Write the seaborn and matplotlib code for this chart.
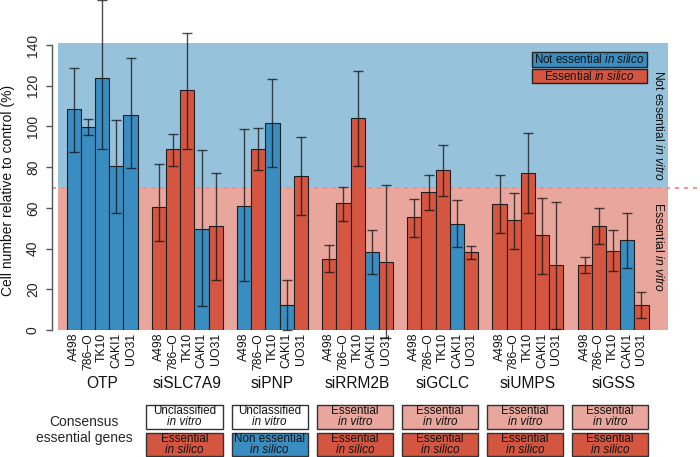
import numpy as np
import pandas as pd
import matplotlib
matplotlib.use("Agg")
import matplotlib.pyplot as plt
import matplotlib.transforms as mtrans
from matplotlib.patches import Rectangle
import seaborn as sns

# ---------------- data ----------------
groups = ["OTP", "siSLC7A9", "siPNP", "siRRM2B", "siGCLC", "siUMPS", "siGSS"]
cell_lines = ["A498", "786\u2013O", "TK10", "CAKI1", "UO31"]

otp_vals = [108.4, 99.7, 123.8, 80.4, 105.6]
slc7a9_vals = [60.3, 88.7, 118.1, 49.5, 51.1]
pnp_vals = [61.1, 89.1, 101.9, 12.1, 75.5]
rrm2b_vals = [34.9, 62.2, 104.1, 38.2, 33.2]
gclc_vals = [55.3, 67.6, 78.4, 52.1, 38.2]
umps_vals = [61.7, 53.9, 77.1, 46.5, 31.8]
gss_vals = [31.8, 50.9, 38.6, 44.0, 12.4]

otp_lo = [87.3, 95.9, 88.9, 57.3, 79.4]
otp_hi = [128.8, 103.6, 162.0, 103.0, 133.4]
slc7a9_lo = [43.9, 80.6, 88.7, 11.8, 24.4]
slc7a9_hi = [81.5, 96.4, 146.1, 88.3, 77.1]
pnp_lo = [23.9, 78.8, 79.9, 0.0, 56.5]
pnp_hi = [98.9, 99.4, 123.1, 24.4, 94.6]
rrm2b_lo = [28.3, 53.5, 80.7, 27.3, -4.0]
rrm2b_hi = [41.8, 70.4, 127.2, 49.3, 71.2]
gclc_lo = [45.8, 59.1, 66.0, 40.6, 34.7]
gclc_hi = [64.5, 76.0, 91.0, 63.7, 41.4]
umps_lo = [47.5, 39.6, 57.6, 27.3, 0.7]
umps_hi = [76.0, 67.5, 96.6, 64.7, 62.9]
gss_lo = [27.8, 42.2, 28.8, 30.6, 5.7]
gss_hi = [35.7, 59.8, 49.1, 57.5, 18.8]

# in silico status per bar (N = not essential, E = essential)
otp_status = ["N", "N", "N", "N", "N"]
slc7a9_status = ["E", "E", "E", "N", "E"]
pnp_status = ["N", "E", "N", "N", "E"]
rrm2b_status = ["E", "E", "E", "N", "E"]
gclc_status = ["E", "E", "E", "N", "E"]
umps_status = ["E", "E", "E", "E", "E"]
gss_status = ["E", "E", "E", "N", "E"]

# consensus boxes (for groups 2..7)
consensus_vitro = ["Unclassified", "Unclassified", "Essential", "Essential", "Essential", "Essential"]
consensus_silico = ["Essential", "Non essential", "Essential", "Essential", "Essential", "Essential"]

threshold = 70

values = [otp_vals, slc7a9_vals, pnp_vals, rrm2b_vals, gclc_vals, umps_vals, gss_vals]
lows = [otp_lo, slc7a9_lo, pnp_lo, rrm2b_lo, gclc_lo, umps_lo, gss_lo]
highs = [otp_hi, slc7a9_hi, pnp_hi, rrm2b_hi, gclc_hi, umps_hi, gss_hi]
statuses = [otp_status, slc7a9_status, pnp_status, rrm2b_status, gclc_status, umps_status, gss_status]

# ---------------- styling ----------------
BLUE = "#3A8DC1"
RED = "#D45641"
BG_BLUE = "#97C2DC"
BG_RED = "#E8A69D"
EDGE = "#1E1E1E"

sns.set_theme(style="white")
plt.rcParams["font.family"] = ["Liberation Sans", "DejaVu Sans"]
plt.rcParams["mathtext.fontset"] = "custom"
plt.rcParams["mathtext.rm"] = "Liberation Sans"
plt.rcParams["mathtext.it"] = "Liberation Sans:italic"

rows = []
for gi, g in enumerate(groups):
    for j, cl in enumerate(cell_lines):
        rows.append({
            "pos": gi * 6 + j + 0.5,
            "value": values[gi][j],
            "lo": lows[gi][j],
            "hi": highs[gi][j],
            "status": "Not essential" if statuses[gi][j] == "N" else "Essential",
            "line": cl,
            "group": g,
        })
df = pd.DataFrame(rows)

fig = plt.figure(figsize=(7.0, 4.57), dpi=100)
ax = fig.add_axes([58 / 700, (457 - 330) / 457, 610 / 700, 287 / 457])
ax.set_facecolor("none")

ax.axhspan(0, threshold, color=BG_RED, zorder=0, lw=0)
ax.axhspan(threshold, 141, color=BG_BLUE, zorder=0, lw=0)

sns.barplot(data=df, x="pos", y="value", hue="status", native_scale=True,
            width=1.0, dodge=False, saturation=1,
            palette={"Not essential": BLUE, "Essential": RED},
            edgecolor=EDGE, linewidth=0.8, errorbar=None, legend=False,
            ax=ax, zorder=2)

# error bars
yerr = np.vstack([df["value"] - df["lo"], df["hi"] - df["value"]])
ax.errorbar(df["pos"], df["value"], yerr=yerr, fmt="none", ecolor="#111111",
            elinewidth=1.0, capsize=3.5, capthick=1.0, alpha=0.75,
            zorder=3, clip_on=False)

ax.set_xlim(-0.613, 42.37)
ax.set_ylim(0, 141)

# threshold dotted line extending beyond the axes
ax.plot([-1.04, 44.7], [threshold, threshold], color="#F08A8A",
        linestyle=(0, (2.2, 2.8)), lw=1.3, clip_on=False, zorder=1)

# axes styling
for s in ["top", "right", "bottom"]:
    ax.spines[s].set_visible(False)
ax.spines["left"].set_position(("outward", 4.5))
ax.spines["left"].set_bounds(0, 140)
ax.spines["left"].set_color("#555555")
ax.spines["left"].set_linewidth(1.0)
ax.set_yticks(np.arange(0, 141, 20))
ax.set_yticklabels([str(v) for v in range(0, 141, 20)], rotation=90, va="center", fontsize=10)
ax.tick_params(axis="y", left=True, length=4.5, width=1.0, color="#555555", pad=4)
ax.set_xticks(df["pos"])
ax.set_xticklabels(df["line"], rotation=90, fontsize=8.8, color="#111111")
ax.tick_params(axis="x", bottom=False, length=0, pad=2)
ax.set_xlabel("")
ax.set_ylabel("")

fig.text(8 / 700, 1 - 190 / 457, "Cell number relative to control (%)",
         rotation=90, ha="center", va="center", fontsize=10, color="#111111")

# group labels
blend = mtrans.blended_transform_factory(ax.transData, fig.transFigure)
for gi, g in enumerate(groups):
    cx = gi * 6 + 2.5
    ax.text(cx, 1 - 383 / 457, g, transform=blend, ha="center", va="center",
            fontsize=11.2, color="#111111", clip_on=False)

# consensus boxes
fig.text(84 / 700, 1 - 422 / 457, "Consensus", ha="center", va="center", fontsize=10)
fig.text(84 / 700, 1 - 438 / 457, "essential genes", ha="center", va="center", fontsize=10)

bw = 5.36
for k in range(6):
    gi = k + 1
    cx = gi * 6 + 2.5 - 0.2
    vitro = consensus_vitro[k]
    silico = consensus_silico[k]
    fc1 = "white" if vitro == "Unclassified" else BG_RED
    fc2 = BLUE if silico.startswith("Non") else RED
    y1_lo, y1_hi = 1 - 428.7 / 457, 1 - 404.7 / 457
    y2_lo, y2_hi = 1 - 456.3 / 457, 1 - 432.7 / 457
    for (ylo, yhi, fc) in [(y1_lo, y1_hi, fc1), (y2_lo, y2_hi, fc2)]:
        r = Rectangle((cx - bw / 2, ylo), bw, yhi - ylo, transform=blend,
                      facecolor=fc, edgecolor="#333333", lw=1.0, clip_on=False)
        ax.add_patch(r)
    ax.text(cx, 1 - 411.5 / 457, vitro, transform=blend, ha="center", va="center",
            fontsize=8.4, color="#111111", clip_on=False)
    ax.text(cx, 1 - 422.3 / 457, "in vitro", transform=blend, ha="center", va="center",
            fontsize=8.4, style="italic", color="#111111", clip_on=False)
    ax.text(cx, 1 - 439.5 / 457, silico, transform=blend, ha="center", va="center",
            fontsize=8.4, color="#111111", clip_on=False)
    ax.text(cx, 1 - 450 / 457, "in silico", transform=blend, ha="center", va="center",
            fontsize=8.4, style="italic", color="#111111", clip_on=False)

# legend boxes
leg_x0 = (532 - 66.7) / 14.19
leg_x1 = (647 - 66.7) / 14.19
legend_items = [("Not essential $\\mathit{in\\ silico}$", BLUE, 136.5, 129.2),
                ("Essential $\\mathit{in\\ silico}$", RED, 128.2, 121.3)]
for label, fc, ytop, ybot in legend_items:
    ax.add_patch(Rectangle((leg_x0, ybot), leg_x1 - leg_x0, ytop - ybot,
                           facecolor=fc, edgecolor="#222222", lw=1.0, zorder=4))
    ax.text((leg_x0 + leg_x1) / 2, (ytop + ybot) / 2, label, ha="center", va="center",
            fontsize=8.4, color="#111111", zorder=5)

# right side annotations
ax.text(41.67, 100.5, "Not essential $\\mathit{in\\ vitro}$", rotation=-90,
        ha="center", va="center", fontsize=8.7, color="#111111", zorder=5)
ax.text(41.67, 40.8, "Essential $\\mathit{in\\ vitro}$", rotation=-90,
        ha="center", va="center", fontsize=8.7, color="#111111", zorder=5)

fig.savefig("out.png", dpi=100)
